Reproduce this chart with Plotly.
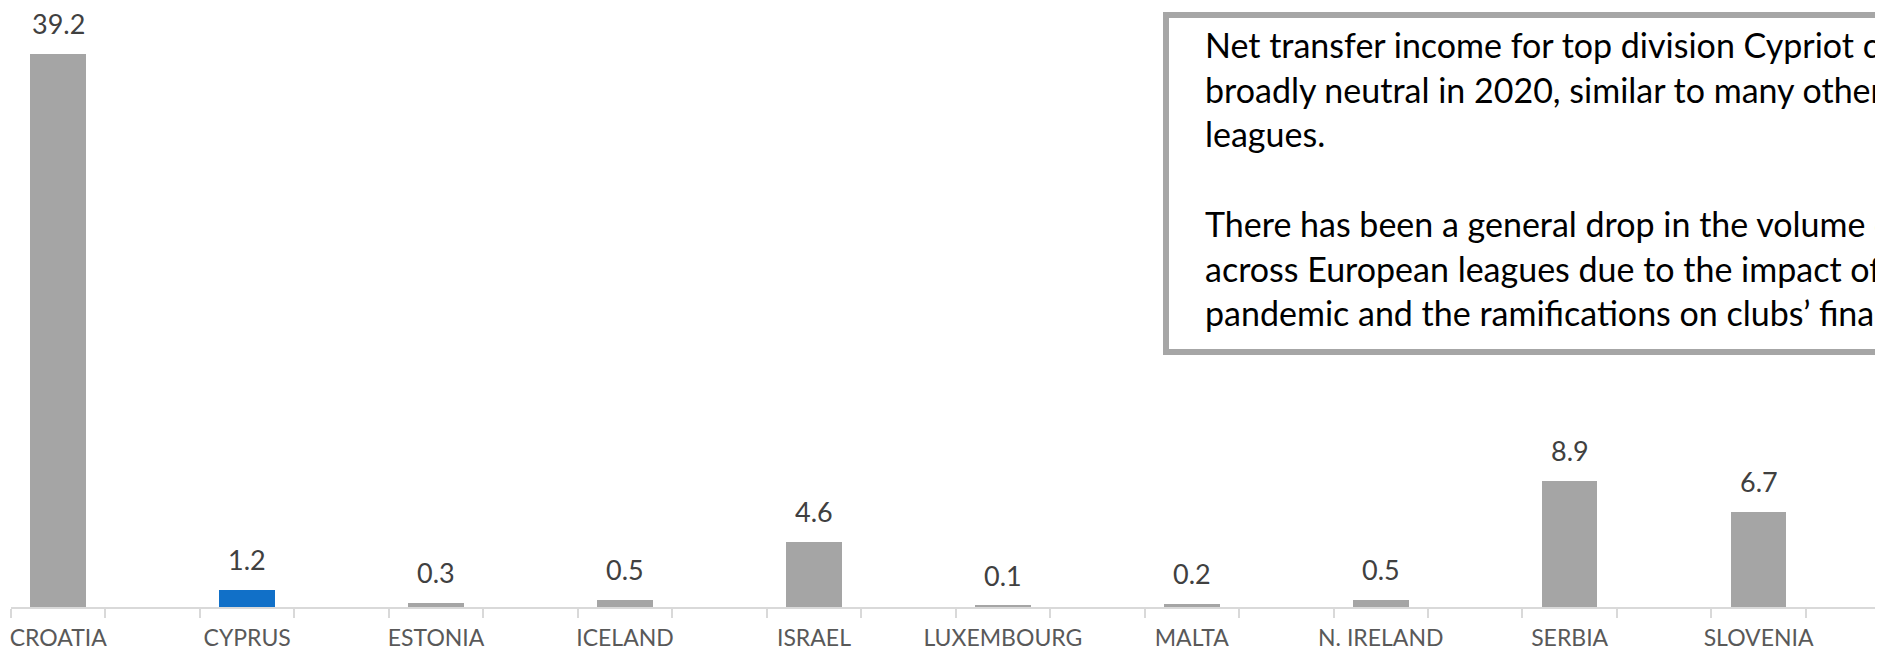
import plotly.graph_objects as go

categories = ["CROATIA", "CYPRUS", "ESTONIA", "ICELAND", "ISRAEL",
              "LUXEMBOURG", "MALTA", "N. IRELAND", "SERBIA", "SLOVENIA"]
values = [39.2, 1.2, 0.3, 0.5, 4.6, 0.1, 0.2, 0.5, 8.9, 6.7]
highlight = "CYPRUS"

box_lines = [
    "Net transfer income for top division Cypriot clubs was",
    "broadly neutral in 2020, similar to many other European",
    "leagues.",
    "",
    "There has been a general drop in the volume of transfers",
    "across European leagues due to the impact of the COVID-19",
    "pandemic and the ramifications on clubs’ finances.",
]

GREY = "#A5A5A5"
BLUE = "#1170C8"

# every other slot on the axis is an unlabeled (empty) category
positions = [2 * i for i in range(len(categories))]
colors = [BLUE if c == highlight else GREY for c in categories]

# figure geometry (page body has an 8px margin)
W, H = 1875, 644
ML, MB = 3, 45
PW, PH = W - ML, H - MB


def px_x(px):
    return (px - ML) / PW


def px_y(py):
    return (PH - py) / PH


fig = go.Figure()
fig.add_trace(go.Bar(
    x=positions, y=values, marker=dict(color=colors, line=dict(width=0)),
    width=0.588, hoverinfo="skip", showlegend=False,
))

for p, v in zip(positions, values):
    fig.add_annotation(
        x=p, y=v, text=f"{v:.1f}", showarrow=False, yanchor="bottom",
        yshift=12, font=dict(family="Lato", size=27, color="#404040"),
    )

fig.add_shape(
    type="rect", xref="paper", yref="paper",
    x0=px_x(1158), x1=1.2, y0=px_y(344), y1=px_y(7),
    line=dict(color="#A6A6A6", width=6), fillcolor="white", layer="above",
)
LINE_PITCH = 44.7
for i, line in enumerate(box_lines):
    if not line:
        continue
    fig.add_annotation(
        xref="paper", yref="paper", x=px_x(1196), y=px_y(15 + i * LINE_PITCH),
        xanchor="left", yanchor="top",
        text=line, align="left", showarrow=False,
        font=dict(family="Lato", size=34, color="#000000"),
        borderpad=0,
    )

fig.update_layout(
    width=W, height=H,
    margin=dict(l=ML, r=0, t=0, b=MB, autoexpand=False),
    paper_bgcolor="white", plot_bgcolor="white",
    bargap=0,
    xaxis=dict(
        range=[-0.5, 19.317], showgrid=False, zeroline=False, automargin=False,
        tickmode="array", tickvals=positions, ticktext=categories,
        ticks="", ticklabelstandoff=9,
        tickfont=dict(family="Lato", size=23, color="#595959"),
        showline=True, linecolor="#D9D9D9", linewidth=2,
        minor=dict(tick0=-0.5, dtick=1, ticks="outside", ticklen=9,
                   tickwidth=2, tickcolor="#D9D9D9", showgrid=False),
    ),
    yaxis=dict(range=[0, PH / 14.11], visible=False, showgrid=False,
               zeroline=False, automargin=False),
)

fig.write_html("out.html")
